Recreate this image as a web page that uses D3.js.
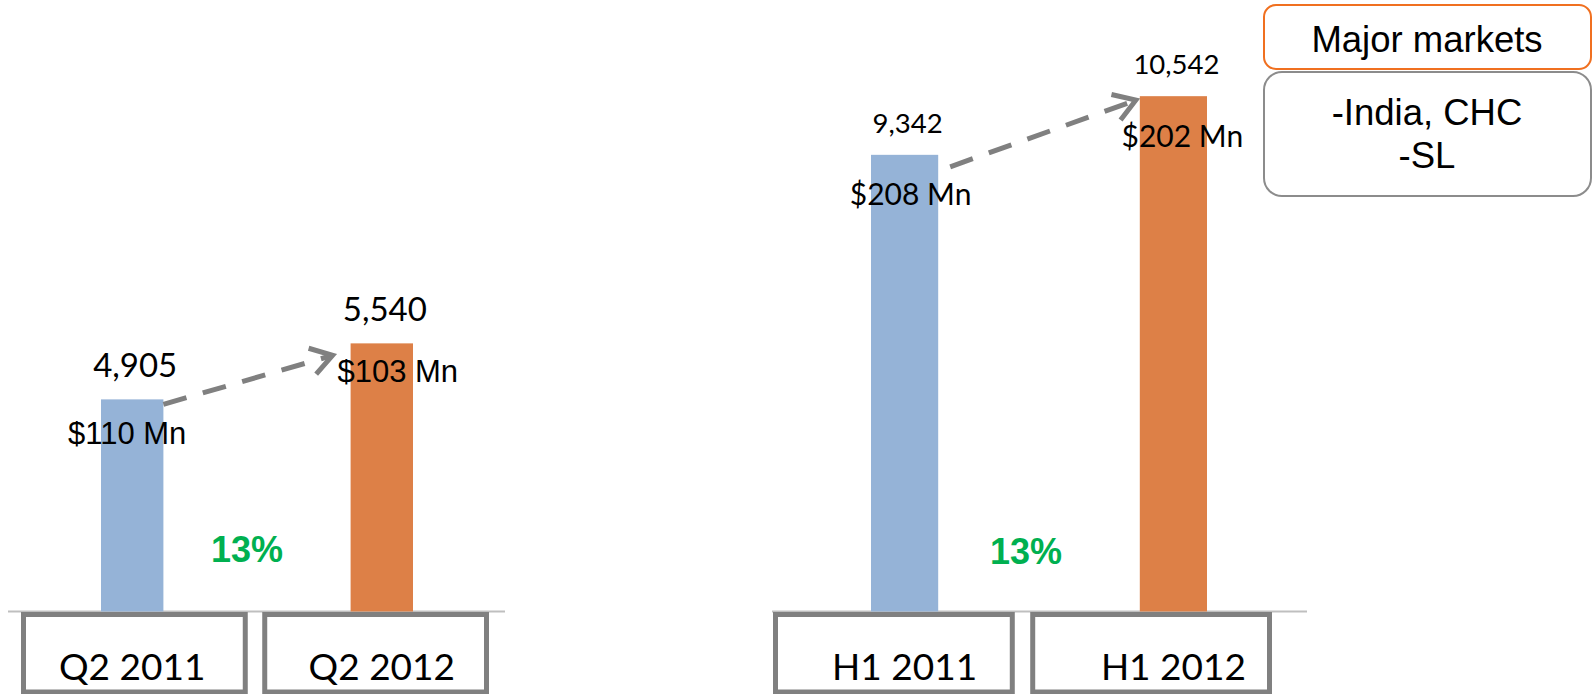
<!DOCTYPE html>
<html lang="en">
<head>
    <meta charset="UTF-8">
    <title>Volumes Q2 / H1</title>
    <script src="https://d3js.org/d3.v7.min.js"></script>
    <style>
        body {
            margin: 0;
            background: #fff;
        }
        svg {
            display: block;
        }
    </style>
</head>
<body>
    <svg width="1594" height="694"></svg>

    <script>
        // data
        const periods = [["Q2 2011", "Q2 2012"], ["H1 2011", "H1 2012"]];
        const volumes = [[4905, 5540], [9342, 10542]];
        const revenue = [[110, 103], [208, 202]];
        const growth = ["13%", "13%"];
        const axisMin = [2500, 0];
        const axisMax = [6000, 12000];
        const marketsTitle = "Major markets";
        const marketsLines = ["-India, CHC", "-SL"];

        const colors = ["#95B3D7", "#DD8047"];
        const svg = d3.select("svg");
        const base = 611.5;

        // layout per panel
        const panels = [
            { bars: [101, 413], boxes: [21, 489], line: [8, 505], top: 302.8,
              numFont: "Lato", numSize: 33, revFont: "Liberation Sans", revSize: 31,
              revOff: [[-5, 45], [16, 39]], growthX: 247, growthY: 562,
              arrow: [0, 5, -18, 12] },
            { bars: [871, 1207], boxes: [773, 1272], line: [772, 1307], top: 24.9,
              numFont: "Lato", numSize: 27.5, revFont: "Lato", revSize: 30,
              revOff: [[6, 50], [9, 51]], growthX: 1026, growthY: 564,
              arrow: [12, 12, -4, 4] }
        ];

        panels.forEach((p, i) => {
            const cats = periods[i];
            const data = cats.map((c, j) => ({ cat: c, v: volumes[i][j], rev: revenue[i][j], j }));

            const x = d3.scaleBand().domain(cats).range(p.bars).paddingInner(0.75).paddingOuter(0);
            const xBox = d3.scaleBand().domain(cats).range(p.boxes).paddingInner(0.06).paddingOuter(0);
            const y = d3.scaleLinear().domain([axisMin[i], axisMax[i]]).range([base, p.top]);

            const g = svg.append("g");

            // baseline
            g.append("line")
                .attr("x1", p.line[0]).attr("x2", p.line[1])
                .attr("y1", base).attr("y2", base)
                .attr("stroke", "#BFBFBF").attr("stroke-width", 2);

            // bars
            g.selectAll("rect.bar")
                .data(data)
                .enter()
                .append("rect")
                .attr("class", "bar")
                .attr("x", d => x(d.cat))
                .attr("width", x.bandwidth())
                .attr("y", d => y(d.v))
                .attr("height", d => base - y(d.v))
                .attr("fill", d => colors[d.j]);

            // category boxes
            g.selectAll("rect.box")
                .data(data)
                .enter()
                .append("rect")
                .attr("class", "box")
                .attr("x", d => xBox(d.cat) + 2.5)
                .attr("width", xBox.bandwidth() - 5)
                .attr("y", 614.5)
                .attr("height", 77.5)
                .attr("fill", "#fff")
                .attr("stroke", "#808080")
                .attr("stroke-width", 5);

            g.selectAll("text.cat")
                .data(data)
                .enter()
                .append("text")
                .attr("class", "cat")
                .attr("x", d => x(d.cat) + x.bandwidth() / 2)
                .attr("y", 680)
                .attr("text-anchor", "middle")
                .attr("font-family", "Lato")
                .attr("font-size", 37)
                .text(d => d.cat);

            // volume labels
            g.selectAll("text.num")
                .data(data)
                .enter()
                .append("text")
                .attr("class", "num")
                .attr("x", d => x(d.cat) + x.bandwidth() / 2 + 3)
                .attr("y", d => y(d.v) - 22)
                .attr("text-anchor", "middle")
                .attr("font-family", p.numFont)
                .attr("font-size", p.numSize)
                .text(d => d3.format(",")(d.v));

            // revenue labels
            g.selectAll("text.rev")
                .data(data)
                .enter()
                .append("text")
                .attr("class", "rev")
                .attr("x", d => x(d.cat) + x.bandwidth() / 2 + p.revOff[d.j][0])
                .attr("y", d => y(d.v) + p.revOff[d.j][1])
                .attr("text-anchor", "middle")
                .attr("font-family", p.revFont)
                .attr("font-size", p.revSize)
                .text(d => "$" + d.rev + " Mn");

            // growth
            g.append("text")
                .attr("x", p.growthX)
                .attr("y", p.growthY)
                .attr("text-anchor", "middle")
                .attr("font-family", "Liberation Sans, Arial, sans-serif")
                .attr("font-weight", "bold")
                .attr("font-size", 36)
                .attr("fill", "#00B050")
                .text(growth[i]);

            // dashed arrow
            const [a, b] = data;
            const x0 = x(a.cat) + x.bandwidth() + p.arrow[0], y0 = y(a.v) + p.arrow[1];
            const x1 = x(b.cat) + p.arrow[2], y1 = y(b.v) + p.arrow[3];
            g.append("line")
                .attr("x1", x0).attr("y1", y0)
                .attr("x2", x1).attr("y2", y1)
                .attr("stroke", "#808080")
                .attr("stroke-width", 5)
                .attr("stroke-dasharray", "24,17");
            const ang = Math.atan2(y0 - y1, x0 - x1);
            const len = 25, spread = Math.PI / 5.5;
            g.append("path")
                .attr("d", `M${x1 + len * Math.cos(ang + spread)},${y1 + len * Math.sin(ang + spread)}`
                    + `L${x1},${y1}`
                    + `L${x1 + len * Math.cos(ang - spread)},${y1 + len * Math.sin(ang - spread)}`)
                .attr("fill", "none")
                .attr("stroke", "#808080")
                .attr("stroke-width", 5);
        });

        // markets callout
        const call = svg.append("g");
        call.append("rect")
            .attr("x", 1264).attr("y", 5).attr("width", 327).attr("height", 64)
            .attr("rx", 12)
            .attr("fill", "#fff").attr("stroke", "#F07020").attr("stroke-width", 2);
        call.append("text")
            .attr("x", 1427).attr("y", 52)
            .attr("text-anchor", "middle")
            .attr("font-family", "Liberation Sans, Arial, sans-serif")
            .attr("font-size", 36.5)
            .text(marketsTitle);
        call.append("rect")
            .attr("x", 1264).attr("y", 72).attr("width", 327).attr("height", 124)
            .attr("rx", 18)
            .attr("fill", "#fff").attr("stroke", "#8C8C8C").attr("stroke-width", 2);
        call.selectAll("text.mk")
            .data(marketsLines)
            .enter()
            .append("text")
            .attr("class", "mk")
            .attr("x", 1427)
            .attr("y", (d, k) => 125 + k * 43)
            .attr("text-anchor", "middle")
            .attr("font-family", "Liberation Sans, Arial, sans-serif")
            .attr("font-size", 36.5)
            .text(d => d);
    </script>
</body>
</html>
